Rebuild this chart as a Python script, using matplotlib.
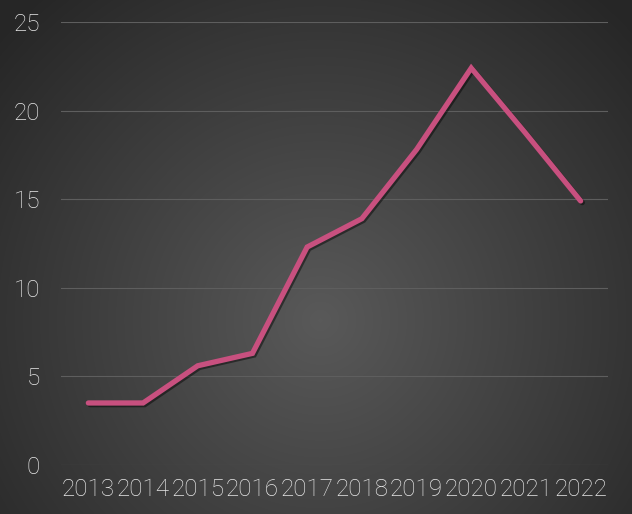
import numpy as np
import matplotlib
matplotlib.use("Agg")
import matplotlib.pyplot as plt
import matplotlib.patheffects as pe

years = ["2013", "2014", "2015", "2016", "2017", "2018", "2019", "2020", "2021", "2022"]
values = [3.5, 3.5, 5.6, 6.3, 12.3, 13.9, 17.8, 22.4, 18.7, 14.9]
y_ticks = [0, 5, 10, 15, 20, 25]

W, H = 632, 514
fig = plt.figure(figsize=(W / 100, H / 100), dpi=100)

# radial gradient background
bg = fig.add_axes([0, 0, 1, 1])
yy, xx = np.mgrid[0:H, 0:W]
cx, cy = 320, 320
r = np.sqrt(((xx - cx) / 430.0) ** 2 + ((yy - cy) / 430.0) ** 2)
r = np.clip(r, 0, 1)
c = 0.35 - (0.35 - 0.15) * r
img = np.dstack([c, c, c])
bg.imshow(img, aspect="auto", extent=[0, W, H, 0])
bg.set_axis_off()

ax = fig.add_axes([61 / W, (H - 465) / H, (608 - 61) / W, (465 - 22) / H])
ax.patch.set_alpha(0)
x = np.arange(len(years))
ax.plot(x, values, color="#c8507f", linewidth=3.8, solid_capstyle="round",
        solid_joinstyle="miter",
        path_effects=[pe.SimpleLineShadow(offset=(1.2, -1.2), shadow_color="black", alpha=0.45),
                      pe.Normal()])
ax.set_xlim(-0.5, len(years) - 0.5)
ax.set_ylim(0, 25)
ax.set_yticks(y_ticks)
ax.set_xticks(x)
ax.set_xticklabels(years)
ax.grid(axis="y", color="#5e5e5e", linewidth=0.8)
ax.set_axisbelow(True)
for s in ax.spines.values():
    s.set_visible(False)
ax.tick_params(length=0, colors="#e8e8e8", labelsize=17.5)
ax.tick_params(axis="y", pad=15)
ax.tick_params(axis="x", pad=9)
for lab in ax.get_xticklabels() + ax.get_yticklabels():
    lab.set_fontfamily(["Roboto", "DejaVu Sans"])
    lab.set_fontweight("light")

fig.savefig("out.png", dpi=100)
